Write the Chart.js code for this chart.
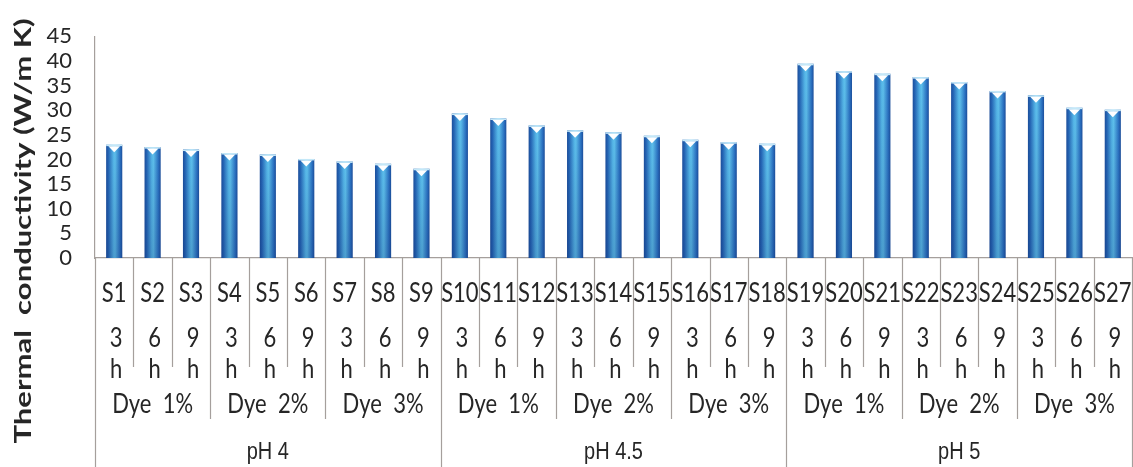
<!DOCTYPE html>
<html>
<head>
<meta charset="utf-8">
<script src="https://cdn.jsdelivr.net/npm/chart.js@4/dist/chart.umd.min.js"></script>
<style>
  html, body { margin: 0; padding: 0; background: #ffffff; }
  #wrap { width: 1133px; height: 467px; position: relative; }
</style>
</head>
<body>
<div id="wrap"><canvas id="chart"></canvas></div>
<script>
// Sample names along the category axis
const samples = ['S1','S2','S3','S4','S5','S6','S7','S8','S9',
                 'S10','S11','S12','S13','S14','S15','S16','S17','S18',
                 'S19','S20','S21','S22','S23','S24','S25','S26','S27'];
// Treatment time of each sample
const hours = ['3 h','6 h','9 h','3 h','6 h','9 h','3 h','6 h','9 h',
               '3 h','6 h','9 h','3 h','6 h','9 h','3 h','6 h','9 h',
               '3 h','6 h','9 h','3 h','6 h','9 h','3 h','6 h','9 h'];
// Dye concentration groups (each spans three samples)
const dyeGroups = ['Dye  1%','Dye  2%','Dye  3%','Dye  1%','Dye  2%','Dye  3%','Dye  1%','Dye  2%','Dye  3%'];
// pH groups (each spans nine samples)
const phGroups = ['pH 4','pH 4.5','pH 5'];
// Thermal conductivity, W/m K
const conductivity = [23.0, 22.5, 22.0, 21.3, 21.0, 20.1, 19.6, 19.1, 18.1,
                      29.3, 28.3, 26.9, 25.9, 25.5, 24.8, 24.0, 23.5, 23.2,
                      39.4, 37.9, 37.4, 36.7, 35.7, 33.9, 33.0, 30.5, 30.1];
// Value axis ticks
const yTicks = [0, 5, 10, 15, 20, 25, 30, 35, 40, 45];
const yTitle = 'Thermal  conductivity (W/m K)';

const AXIS_COLOR = '#a59f9c';
const TEXT_COLOR = '#262626';
const BAR_FRACTION = 0.42;

function barGradient(c) {
  const chart = c.chart;
  const xs = chart.scales && chart.scales.x;
  if (!xs || !chart.chartArea || c.type !== 'data') return '#2a74c2';
  const cx = xs.getPixelForValue(c.dataIndex);
  const w = xs.width / samples.length * BAR_FRACTION;
  const g = chart.ctx.createLinearGradient(cx - w / 2, 0, cx + w / 2, 0);
  g.addColorStop(0.00, '#1c4f9c');
  g.addColorStop(0.14, '#2566b6');
  g.addColorStop(0.45, '#55b6e8');
  g.addColorStop(0.55, '#5ec0ec');
  g.addColorStop(0.86, '#2b72c2');
  g.addColorStop(1.00, '#1c4f9c');
  return g;
}

// Cylinder shading and the notched top of each bar
const barTops = {
  id: 'barTops',
  afterDatasetsDraw(chart) {
    const ctx = chart.ctx;
    const base = chart.scales.y.getPixelForValue(0);
    chart.getDatasetMeta(0).data.forEach(el => {
      const w = el.width, x = el.x, top = el.y;
      ctx.save();
      const g = ctx.createLinearGradient(0, top, 0, base);
      g.addColorStop(0, 'rgba(10,30,90,0)');
      g.addColorStop(1, 'rgba(10,30,90,0.2)');
      ctx.fillStyle = g;
      ctx.fillRect(x - w / 2, top, w, base - top);
      ctx.fillStyle = '#c4e8f8';
      ctx.fillRect(x - w / 2, top, w, 1.5);
      ctx.fillStyle = '#ffffff';
      ctx.beginPath();
      ctx.moveTo(x - w * 0.36, top + 1.5);
      ctx.lineTo(x + w * 0.36, top + 1.5);
      ctx.lineTo(x, top + 7.5);
      ctx.closePath();
      ctx.fill();
      ctx.restore();
    });
  }
};

function stretchedText(ctx, txt, x, y, sy) {
  ctx.save();
  ctx.translate(x, y);
  ctx.scale(1, sy);
  ctx.fillText(txt, 0, 0);
  ctx.restore();
}

// Nested category table under the axis, plus the rotated value-axis title
const categoryTable = {
  id: 'categoryTable',
  afterDraw(chart) {
    const ctx = chart.ctx;
    const xs = chart.scales.x;
    const n = samples.length;
    const catW = xs.width / n;
    const axisY = chart.chartArea.bottom;
    const dyeSpan = n / dyeGroups.length;
    const phSpan = n / phGroups.length;
    const H = chart.height;

    ctx.save();
    ctx.strokeStyle = AXIS_COLOR;
    ctx.lineWidth = 1.2;
    for (let k = 0; k <= n; k++) {
      const x = Math.round(xs.left + k * catW) + 0.5;
      let depth = 367;
      if (k % phSpan === 0) depth = H;
      else if (k % dyeSpan === 0) depth = 419;
      ctx.beginPath();
      ctx.moveTo(x, axisY);
      ctx.lineTo(x, depth);
      ctx.stroke();
    }

    ctx.fillStyle = TEXT_COLOR;
    ctx.textAlign = 'center';
    ctx.textBaseline = 'middle';
    ctx.font = '22px Lato';
    samples.forEach((s, i) => {
      const cx = xs.getPixelForValue(i);
      stretchedText(ctx, s, cx, 293, 1.2);
      const parts = hours[i].split(' ');
      stretchedText(ctx, parts[0], cx + 2, 338, 1.2);
      stretchedText(ctx, parts[1], cx + 2, 369, 1.2);
    });
    dyeGroups.forEach((d, g) => {
      const cx = xs.left + (g + 0.5) * dyeSpan * catW;
      stretchedText(ctx, d, cx, 404, 1.2);
    });
    ctx.font = '20px "Liberation Sans"';
    phGroups.forEach((p, g) => {
      const cx = xs.left + (g + 0.5) * phSpan * catW;
      stretchedText(ctx, p, cx, 453, 1.15);
    });

    // value-axis title
    ctx.font = 'bold 23px Lato';
    const tw = ctx.measureText(yTitle).width;
    ctx.translate(24, 231);
    ctx.rotate(-Math.PI / 2);
    ctx.scale(425 / tw, 1);
    ctx.fillText(yTitle, 0, 0);
    ctx.restore();
  }
};

new Chart(document.getElementById('chart'), {
  type: 'bar',
  data: {
    labels: samples,
    datasets: [{
      data: conductivity,
      backgroundColor: barGradient,
      borderWidth: 0,
      categoryPercentage: 1,
      barPercentage: BAR_FRACTION
    }]
  },
  options: {
    responsive: true,
    maintainAspectRatio: false,
    animation: false,
    events: [],
    layout: { padding: { top: 21, right: 1, left: 0, bottom: 0 } },
    plugins: { legend: { display: false }, tooltip: { enabled: false } },
    scales: {
      x: {
        grid: { display: false },
        border: { display: true, color: AXIS_COLOR, width: 1.2 },
        ticks: { display: false },
        afterFit(scale) { scale.height = 467 - 258; }
      },
      y: {
        min: 0,
        max: 45,
        afterBuildTicks(scale) { scale.ticks = yTicks.map(v => ({ value: v })); },
        grid: { display: false, drawTicks: false },
        border: { display: true, color: AXIS_COLOR, width: 1.2 },
        ticks: {
          autoSkip: false,
          padding: 23,
          color: TEXT_COLOR,
          font: { family: 'Lato', size: 22 }
        },
        afterFit(scale) { scale.width = 95; }
      }
    }
  },
  plugins: [barTops, categoryTable]
});
</script>
</body>
</html>
